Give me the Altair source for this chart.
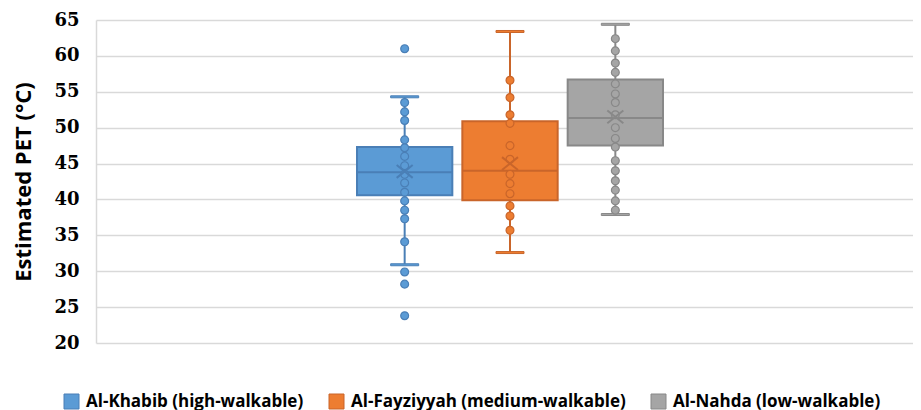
import altair as alt
import pandas as pd

groups = ["Al-Khabib (high-walkable)", "Al-Fayziyyah (medium-walkable)", "Al-Nahda (low-walkable)"]
fill_colors = ["#5B9BD5", "#ED7D31", "#A5A5A5"]
edge_colors = ["#4A7FB6", "#C9652A", "#888888"]

q1 = [40.6, 39.9, 47.5]
median = [43.8, 44.0, 51.35]
q3 = [47.3, 50.9, 56.7]
whisker_low = [30.9, 32.6, 37.9]
whisker_high = [54.3, 63.4, 64.4]
mean = [43.9, 45.0, 51.5]

khabib_points = [61.0, 53.5, 52.2, 51.0, 48.3, 47.2, 46.0, 44.7, 43.5, 42.3, 41.0,
                 39.8, 38.5, 37.3, 34.1, 29.9, 28.2, 23.8]
fayziyyah_points = [56.6, 54.2, 51.8, 50.6, 47.5, 45.6, 43.5, 42.2, 40.8, 39.1, 37.7, 35.7]
nahda_points = [62.4, 60.7, 59.0, 57.7, 56.1, 54.7, 53.5, 51.8, 50.0, 48.5, 47.3, 45.4,
                44.0, 42.6, 41.3, 39.8, 38.5]

y_ticks = [20, 25, 30, 35, 40, 45, 50, 55, 60, 65]

stats = pd.DataFrame({
    "group": groups, "q1": q1, "median": median, "q3": q3,
    "low": whisker_low, "high": whisker_high, "mean": mean,
})
pts = pd.DataFrame(
    [{"group": groups[0], "value": v} for v in khabib_points]
    + [{"group": groups[1], "value": v} for v in fayziyyah_points]
    + [{"group": groups[2], "value": v} for v in nahda_points]
)

xenc = alt.X("panel:N", scale=alt.Scale(paddingInner=0, paddingOuter=0), axis=None)
xoff = alt.XOffset("group:N", scale=alt.Scale(domain=groups, range=[261, 567],
                                              paddingInner=0.095, paddingOuter=0))
yscale = alt.Scale(domain=[20, 65], nice=False, zero=False)
yaxis = alt.Axis(values=y_ticks, title="Estimated PET (°C)", grid=True, gridColor="#D9D9D9",
                 gridWidth=1.5, domain=True, domainColor="#D9D9D9", domainWidth=1.5,
                 ticks=False, labelPadding=17, labelOverlap=False, labelFont="DejaVu Serif",
                 labelFontWeight="bold", labelFontSize=18, labelColor="#000000",
                 titleFont="Open Sans", titleFontWeight="bold", titleFontSize=22,
                 titleColor="#000000", titlePadding=18)


def Y(field):
    return alt.Y(field, scale=yscale, axis=yaxis, title="Estimated PET (°C)")


fill_scale = alt.Scale(domain=groups, range=fill_colors)
stroke_scale = alt.Scale(domain=groups, range=edge_colors)
legend = alt.Legend(title=None, orient="none", direction="horizontal",
                    legendX=-33, legendY=373, symbolType="square",
                    symbolSize=225, symbolStrokeWidth=1, symbolOpacity=1,
                    labelFont="Open Sans", labelFontWeight="bold",
                    labelFontSize=17, labelColor="#000000", labelLimit=400,
                    columnPadding=23, labelOffset=6)

FILL = alt.Fill("group:N", scale=fill_scale, legend=legend)
STROKE = alt.Stroke("group:N", scale=stroke_scale, legend=legend)

base_s = alt.Chart(stats).transform_calculate(panel="'all'")

whisk = base_s.mark_rule(strokeWidth=2, opacity=1).encode(
    x=xenc, xOffset=xoff, y=Y("low:Q"), y2="high:Q", stroke=STROKE,
)
caps_low = base_s.mark_tick(size=28, thickness=2, opacity=1).encode(
    x=xenc, xOffset=xoff, y=Y("low:Q"), stroke=STROKE, fill=FILL,
)
caps_high = base_s.mark_tick(size=28, thickness=2, opacity=1).encode(
    x=xenc, xOffset=xoff, y=Y("high:Q"), stroke=STROKE, fill=FILL,
)
box = base_s.mark_bar(strokeWidth=2, opacity=1).encode(
    x=xenc, xOffset=xoff, y=Y("q1:Q"), y2="q3:Q", fill=FILL, stroke=STROKE,
)
med = base_s.mark_bar(strokeWidth=2, fillOpacity=0).encode(
    x=xenc, xOffset=xoff, y=Y("median:Q"), y2="median:Q", stroke=STROKE, fill=FILL,
)
points = alt.Chart(pts).transform_calculate(panel="'all'").mark_point(
    shape="circle", filled=True, size=62, strokeWidth=1.2, opacity=1).encode(
    x=xenc, xOffset=xoff, y=Y("value:Q"), fill=FILL, stroke=STROKE,
)
mean_mark = base_s.mark_point(shape="M-1,-0.8L1,0.8M-1,0.8L1,-0.8", filled=False, size=256,
                              strokeWidth=2, opacity=1).encode(
    x=xenc, xOffset=xoff, y=Y("mean:Q"), stroke=STROKE,
)

chart = alt.layer(whisk, caps_low, caps_high, box, med, points, mean_mark).properties(
    width=817, height=323,
    padding={"left": 88, "top": 12, "right": 0, "bottom": 67},
    autosize=alt.AutoSizeParams(type="none"),
    background="#ffffff",
).configure_view(stroke=None)

chart.save("out.html", embed_options={"renderer": "svg", "actions": False})
